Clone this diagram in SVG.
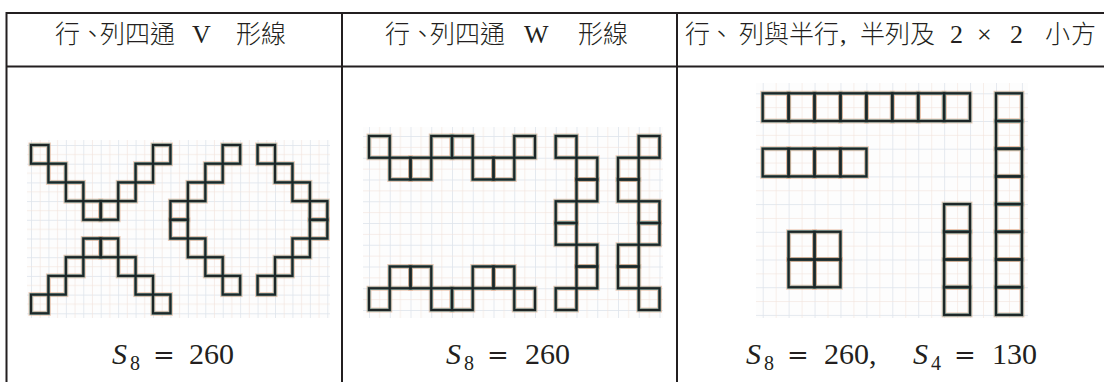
<svg xmlns="http://www.w3.org/2000/svg" xmlns:xlink="http://www.w3.org/1999/xlink" width="1104" height="382" viewBox="0 0 1104 382">
<style>
.rule{stroke:#231f20;stroke-width:2;fill:none}
.cjk{font-family:"Noto Sans CJK TC","Noto Sans CJK SC",sans-serif;font-size:25px;font-weight:300;fill:#231f20}
.lat{font-family:"Liberation Serif","Times New Roman",serif;font-size:26px;font-weight:400}
.math{font-family:"Liberation Serif","Times New Roman",serif;font-size:30px;fill:#231f20}
.it{font-style:italic}
.sub{font-size:20px}
.eq{font-family:"DejaVu Serif",serif;font-size:26px}
.halo{fill:none;stroke:#e0a482;stroke-opacity:.55;stroke-width:5}
.teal{fill:none;stroke:#4f8a88;stroke-opacity:.75;stroke-width:3.2}
.ink{fill:none;stroke:#1d2526;stroke-width:2.1}
</style>
<defs>
<pattern id="g1" patternUnits="userSpaceOnUse" x="31" y="145" width="17.43" height="18.7">
<rect x="0" y="0" width="17.43" height="18.7" fill="#fdfdfd"/>
<rect x="0" y="0" width="17.43" height="0.8" fill="#dfe5ec"/>
<rect x="0" y="0" width="0.8" height="18.7" fill="#dfe5ec"/>
<rect x="0" y="9.35" width="17.43" height="0.6" fill="#f3e4dc"/>
<rect x="8.7" y="0" width="0.6" height="18.7" fill="#f3e4dc"/>
</pattern>
<pattern id="g2" patternUnits="userSpaceOnUse" x="369" y="136" width="20.75" height="21.75">
<rect x="0" y="0" width="20.75" height="21.75" fill="#fdfdfd"/>
<rect x="0" y="0" width="20.75" height="0.8" fill="#dfe5ec"/>
<rect x="0" y="0" width="0.8" height="21.75" fill="#dfe5ec"/>
<rect x="0" y="10.9" width="20.75" height="0.6" fill="#f3e4dc"/>
<rect x="10.4" y="0" width="0.6" height="21.75" fill="#f3e4dc"/>
</pattern>
<pattern id="g3" patternUnits="userSpaceOnUse" x="762.7" y="93.3" width="25.92" height="27.7">
<rect x="0" y="0" width="25.92" height="27.7" fill="#fdfdfd"/>
<rect x="0" y="0" width="25.92" height="0.8" fill="#dfe5ec"/>
<rect x="0" y="0" width="0.8" height="27.7" fill="#dfe5ec"/>
<rect x="0" y="13.85" width="25.92" height="0.6" fill="#f3e4dc"/>
<rect x="12.96" y="0" width="0.6" height="27.7" fill="#f3e4dc"/>
</pattern>
<g id="sq1">
<rect x="31" y="145" width="17.43" height="18.7"/>
<rect x="48.4" y="163.7" width="17.43" height="18.7"/>
<rect x="65.9" y="182.4" width="17.43" height="18.7"/>
<rect x="83.3" y="201.1" width="17.43" height="18.7"/>
<rect x="100.7" y="201.1" width="17.43" height="18.7"/>
<rect x="118.2" y="182.4" width="17.43" height="18.7"/>
<rect x="135.6" y="163.7" width="17.43" height="18.7"/>
<rect x="153" y="145" width="17.43" height="18.7"/>
<rect x="83.3" y="238.5" width="17.43" height="18.7"/>
<rect x="100.7" y="238.5" width="17.43" height="18.7"/>
<rect x="65.9" y="257.2" width="17.43" height="18.7"/>
<rect x="118.2" y="257.2" width="17.43" height="18.7"/>
<rect x="48.4" y="275.9" width="17.43" height="18.7"/>
<rect x="135.6" y="275.9" width="17.43" height="18.7"/>
<rect x="31" y="294.6" width="17.43" height="18.7"/>
<rect x="153" y="294.6" width="17.43" height="18.7"/>
<rect x="222.7" y="145" width="17.43" height="18.7"/>
<rect x="205.3" y="163.7" width="17.43" height="18.7"/>
<rect x="187.9" y="182.4" width="17.43" height="18.7"/>
<rect x="170.4" y="201.1" width="17.43" height="18.7"/>
<rect x="170.4" y="219.8" width="17.43" height="18.7"/>
<rect x="187.9" y="238.5" width="17.43" height="18.7"/>
<rect x="205.3" y="257.2" width="17.43" height="18.7"/>
<rect x="222.7" y="275.9" width="17.43" height="18.7"/>
<rect x="257.6" y="145" width="17.43" height="18.7"/>
<rect x="275" y="163.7" width="17.43" height="18.7"/>
<rect x="292.5" y="182.4" width="17.43" height="18.7"/>
<rect x="309.9" y="201.1" width="17.43" height="18.7"/>
<rect x="309.9" y="219.8" width="17.43" height="18.7"/>
<rect x="292.5" y="238.5" width="17.43" height="18.7"/>
<rect x="275" y="257.2" width="17.43" height="18.7"/>
<rect x="257.6" y="275.9" width="17.43" height="18.7"/>
</g>
<g id="sq2">
<rect x="369" y="136" width="20.75" height="21.75"/>
<rect x="389.75" y="157.75" width="20.75" height="21.75"/>
<rect x="410.5" y="157.75" width="20.75" height="21.75"/>
<rect x="431.25" y="136" width="20.75" height="21.75"/>
<rect x="452" y="136" width="20.75" height="21.75"/>
<rect x="472.75" y="157.75" width="20.75" height="21.75"/>
<rect x="493.5" y="157.75" width="20.75" height="21.75"/>
<rect x="514.25" y="136" width="20.75" height="21.75"/>
<rect x="389.75" y="266.5" width="20.75" height="21.75"/>
<rect x="410.5" y="266.5" width="20.75" height="21.75"/>
<rect x="472.75" y="266.5" width="20.75" height="21.75"/>
<rect x="493.5" y="266.5" width="20.75" height="21.75"/>
<rect x="369" y="288.25" width="20.75" height="21.75"/>
<rect x="431.25" y="288.25" width="20.75" height="21.75"/>
<rect x="452" y="288.25" width="20.75" height="21.75"/>
<rect x="514.25" y="288.25" width="20.75" height="21.75"/>
<rect x="555.75" y="136" width="20.75" height="21.75"/>
<rect x="576.5" y="157.75" width="20.75" height="21.75"/>
<rect x="576.5" y="179.5" width="20.75" height="21.75"/>
<rect x="555.75" y="201.25" width="20.75" height="21.75"/>
<rect x="555.75" y="223" width="20.75" height="21.75"/>
<rect x="576.5" y="244.75" width="20.75" height="21.75"/>
<rect x="576.5" y="266.5" width="20.75" height="21.75"/>
<rect x="555.75" y="288.25" width="20.75" height="21.75"/>
<rect x="638.75" y="136" width="20.75" height="21.75"/>
<rect x="618" y="157.75" width="20.75" height="21.75"/>
<rect x="618" y="179.5" width="20.75" height="21.75"/>
<rect x="638.75" y="201.25" width="20.75" height="21.75"/>
<rect x="638.75" y="223" width="20.75" height="21.75"/>
<rect x="618" y="244.75" width="20.75" height="21.75"/>
<rect x="618" y="266.5" width="20.75" height="21.75"/>
<rect x="638.75" y="288.25" width="20.75" height="21.75"/>
</g>
<g id="sq3">
<rect x="762.7" y="93.3" width="25.92" height="27.7"/>
<rect x="788.6" y="93.3" width="25.92" height="27.7"/>
<rect x="814.5" y="93.3" width="25.92" height="27.7"/>
<rect x="840.5" y="93.3" width="25.92" height="27.7"/>
<rect x="866.4" y="93.3" width="25.92" height="27.7"/>
<rect x="892.3" y="93.3" width="25.92" height="27.7"/>
<rect x="918.2" y="93.3" width="25.92" height="27.7"/>
<rect x="944.1" y="93.3" width="25.92" height="27.7"/>
<rect x="762.7" y="148.7" width="25.92" height="27.7"/>
<rect x="788.6" y="148.7" width="25.92" height="27.7"/>
<rect x="814.5" y="148.7" width="25.92" height="27.7"/>
<rect x="840.5" y="148.7" width="25.92" height="27.7"/>
<rect x="788.6" y="231.8" width="25.92" height="27.7"/>
<rect x="814.5" y="231.8" width="25.92" height="27.7"/>
<rect x="788.6" y="259.5" width="25.92" height="27.7"/>
<rect x="814.5" y="259.5" width="25.92" height="27.7"/>
<rect x="944.1" y="204.1" width="25.92" height="27.7"/>
<rect x="944.1" y="231.8" width="25.92" height="27.7"/>
<rect x="944.1" y="259.5" width="25.92" height="27.7"/>
<rect x="944.1" y="287.2" width="25.92" height="27.7"/>
<rect x="996" y="93.3" width="25.92" height="27.7"/>
<rect x="996" y="121" width="25.92" height="27.7"/>
<rect x="996" y="148.7" width="25.92" height="27.7"/>
<rect x="996" y="176.4" width="25.92" height="27.7"/>
<rect x="996" y="204.1" width="25.92" height="27.7"/>
<rect x="996" y="231.8" width="25.92" height="27.7"/>
<rect x="996" y="259.5" width="25.92" height="27.7"/>
<rect x="996" y="287.2" width="25.92" height="27.7"/>
</g>
</defs>
<rect width="1104" height="382" fill="#ffffff"/>
<g id="table-rules">
<path class="rule" d="M6 13H1104M6 66.5H1104M6.5 12V382M342 12V382M677 12V382"/>
</g>
<g id="headers">
<text class="cjk" y="43"><tspan x="55 80 100 125 150">行、列四通</tspan><tspan class="lat" font-family="Liberation Serif" x="192">V</tspan><tspan x="236 261">形線</tspan></text>
<text class="cjk" y="43"><tspan x="385 410 430 455 480">行、列四通</tspan><tspan class="lat" font-family="Liberation Serif" x="524">W</tspan><tspan x="578 603">形線</tspan></text>
<text class="cjk" y="43"><tspan x="685 709 739 764 789 814">行、列與半行</tspan><tspan class="lat" font-family="Liberation Serif" x="840">,</tspan><tspan x="860 885 910">半列及</tspan><tspan class="lat" font-family="Liberation Serif" x="950">2</tspan><tspan class="lat" font-family="Liberation Serif" x="977">×</tspan><tspan class="lat" font-family="Liberation Serif" x="1010">2</tspan><tspan x="1045 1071">小方</tspan></text>
</g>
<g id="panel-v">
<rect x="27" y="140" width="303" height="178" fill="url(#g1)"/>
<use xlink:href="#sq1" class="halo"/>
<use xlink:href="#sq1" class="teal"/>
<use xlink:href="#sq1" class="ink"/>
</g>
<g id="panel-w">
<rect x="363" y="127" width="300" height="191" fill="url(#g2)"/>
<use xlink:href="#sq2" class="halo"/>
<use xlink:href="#sq2" class="teal"/>
<use xlink:href="#sq2" class="ink"/>
</g>
<g id="panel-rows">
<rect x="756" y="83" width="272" height="235" fill="url(#g3)"/>
<use xlink:href="#sq3" class="halo"/>
<use xlink:href="#sq3" class="teal"/>
<use xlink:href="#sq3" class="ink"/>
</g>
<g id="formulas" font-family="Liberation Serif">
<text class="math" y="364"><tspan class="it" x="112">S</tspan><tspan class="sub" x="130" y="370">8</tspan><tspan class="eq" x="153" y="364">=</tspan><tspan x="189">260</tspan></text>
<text class="math" y="364"><tspan class="it" x="446">S</tspan><tspan class="sub" x="464" y="370">8</tspan><tspan class="eq" x="487" y="364">=</tspan><tspan x="525">260</tspan></text>
<text class="math" y="364"><tspan class="it" x="746">S</tspan><tspan class="sub" x="764" y="370">8</tspan><tspan class="eq" x="787" y="364">=</tspan><tspan x="824">260,</tspan><tspan class="it" x="913">S</tspan><tspan class="sub" x="931" y="370">4</tspan><tspan class="eq" x="954" y="364">=</tspan><tspan x="992">130</tspan></text>
</g>
</svg>
